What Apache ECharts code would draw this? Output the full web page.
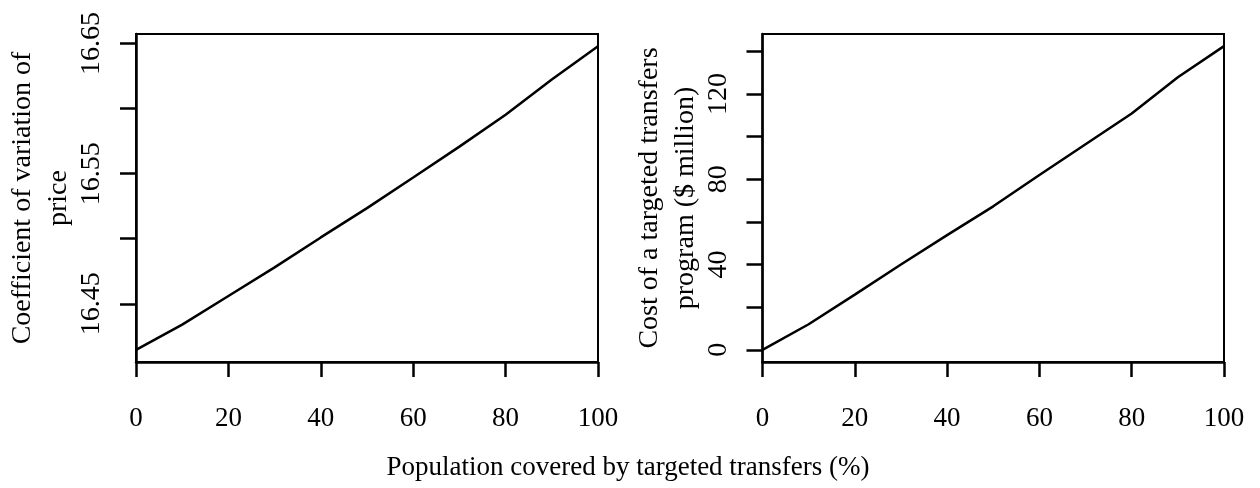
<!DOCTYPE html>
<html>
<head>
<meta charset="utf-8">
<script src="https://cdn.jsdelivr.net/npm/echarts@6/dist/echarts.min.js"></script>
<style>
html,body{margin:0;padding:0;background:#fff;}
#c{width:1260px;height:488px;}
</style>
</head>
<body>
<div id="c"></div>
<script>
// Data
const coverage = [0, 10, 20, 30, 40, 50, 60, 70, 80, 90, 100];
const cvPrice = [16.4146, 16.434, 16.456, 16.478, 16.501, 16.5235, 16.547, 16.5708, 16.5953, 16.6224, 16.648];
const programCost = [0, 12.0, 25.9, 40.0, 53.8, 67.3, 82.0, 96.4, 110.8, 127.8, 142.4];
const xTicks = [0, 20, 40, 60, 80, 100];
const leftYTicks = [16.45, 16.50, 16.55, 16.60, 16.65];
const leftYLabels = [16.45, 16.55, 16.65];
const rightYTicks = [0, 20, 40, 60, 80, 100, 120, 140];
const rightYLabels = [0, 40, 80, 120];
const leftYTitle = 'Coefficient of variation of\nprice';
const rightYTitle = 'Cost of a targeted transfers\nprogram ($ million)';
const xTitle = 'Population covered by targeted transfers (%)';

function ext(arr) {
  const mn = Math.min(...arr), mx = Math.max(...arr);
  const d = (mx - mn) * 0.04;
  return [mn - d, mx + d];
}
const lr = ext(cvPrice);
const rr = ext(programCost);

const FONT = 'Liberation Serif';
const FS = 28;

function xAxis(idx) {
  return {
    type: 'value', gridIndex: idx, min: 0, max: 100, interval: 20,
    axisLine: {show: true, onZero: false, lineStyle: {color: '#000', width: 2.5}},
    axisTick: {show: true, inside: false, length: 15, lineStyle: {color: '#000', width: 2.5}},
    axisLabel: {show: true, margin: 43, color: '#000', fontFamily: FONT, fontSize: 27,
      customValues: xTicks},
    splitLine: {show: false}
  };
}
function yAxis(idx, range, ticks, labels, name) {
  return {
    type: 'value', gridIndex: idx, min: range[0], max: range[1],
    name: name, nameLocation: 'middle', nameRotate: 90, nameGap: 52,
    nameTextStyle: {color: '#000', fontFamily: FONT, fontSize: FS, lineHeight: 36},
    axisLine: {show: true, onZero: false, lineStyle: {color: '#000', width: 2.5}},
    axisTick: {show: true, inside: false, length: 16, customValues: ticks, lineStyle: {color: '#000', width: 2.5}},
    axisLabel: {show: true, rotate: 90, margin: 30, color: '#000', fontFamily: FONT, fontSize: FS,
      customValues: labels, formatter: v => String(v)},
    splitLine: {show: false}
  };
}

const chart = echarts.init(document.getElementById('c'), null, {renderer: 'canvas'});
chart.setOption({
  animation: false,
  backgroundColor: '#fff',
  title: {
    text: xTitle, left: 623, top: 449, textAlign: 'center',
    textStyle: {color: '#000', fontFamily: FONT, fontSize: 27, fontWeight: 'normal'}
  },
  grid: [
    {left: 136, top: 34, width: 462, height: 328, show: true, borderColor: '#000', borderWidth: 2, backgroundColor: 'transparent'},
    {left: 762.5, top: 34, width: 461.5, height: 328, show: true, borderColor: '#000', borderWidth: 2, backgroundColor: 'transparent'}
  ],
  xAxis: [xAxis(0), xAxis(1)],
  yAxis: [
    yAxis(0, lr, leftYTicks, leftYLabels, leftYTitle),
    yAxis(1, rr, rightYTicks, rightYLabels, rightYTitle)
  ],
  series: [
    {type: 'line', xAxisIndex: 0, yAxisIndex: 0, data: coverage.map((x, i) => [x, cvPrice[i]]),
     showSymbol: false, lineStyle: {color: '#000', width: 2.5}},
    {type: 'line', xAxisIndex: 1, yAxisIndex: 1, data: coverage.map((x, i) => [x, programCost[i]]),
     showSymbol: false, lineStyle: {color: '#000', width: 2.5}}
  ]
});
</script>
</body>
</html>
